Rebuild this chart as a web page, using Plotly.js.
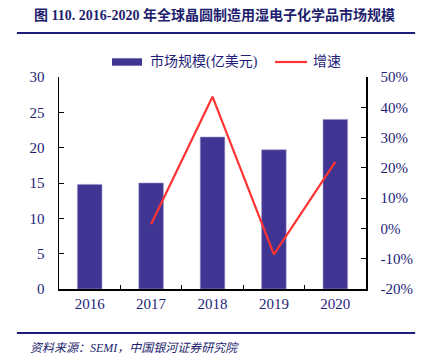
<!DOCTYPE html>
<html>
<head>
<meta charset="utf-8">
<script src="https://cdn.plot.ly/plotly-3.0.1.min.js"></script>
<style>html,body{margin:0;padding:0;background:#fff;}#chart{width:421px;height:361px;}</style>
</head>
<body>
<div id="chart"></div>
<script>
const years = ['2016', '2017', '2018', '2019', '2020'];
const marketSize = [14.8, 15.0, 21.5, 19.7, 24.0];
const growthYears = ['2017', '2018', '2019', '2020'];
const growthRate = [1.4, 43.5, -8.6, 22.0];
const leftTicks = [0, 5, 10, 15, 20, 25, 30];
const rightTicks = [-20, -10, 0, 10, 20, 30, 40, 50];
const rightTickText = rightTicks.map(v => v + '%');
const seriesNames = ['市场规模(亿美元)', '增速'];

const serif = '"Liberation Serif", "Times New Roman", "Noto Sans CJK SC", serif';
const navy = '#1E1E78';
const barColor = '#413593';
const lineColor = '#FF3333';

const traces = [
  {
    type: 'bar', x: years, y: marketSize, name: seriesNames[0],
    marker: {color: barColor, line: {color: '#9A93C8', width: 0.6}},
    width: 0.4, yaxis: 'y'
  },
  {
    type: 'scatter', mode: 'lines', x: growthYears, y: growthRate, name: seriesNames[1],
    line: {color: lineColor, width: 2.2}, yaxis: 'y2'
  }
];

const layout = {
  width: 421, height: 361,
  margin: {l: 59, r: 55, t: 77, b: 72, autoexpand: false},
  paper_bgcolor: '#fff', plot_bgcolor: '#fff',
  font: {family: serif, size: 15, color: navy},
  showlegend: false,
  bargap: 0.6,
  xaxis: {
    type: 'category', range: [-0.5, 4.5],
    showline: true, linecolor: '#000', linewidth: 1.5,
    ticks: 'inside', tickson: 'boundaries', ticklen: 4, tickcolor: '#000',
    showgrid: false, zeroline: false,
    tickfont: {family: serif, size: 15, color: navy}
  },
  yaxis: {
    range: [0, 30], tickvals: leftTicks,
    showline: true, linecolor: '#000', linewidth: 1.5,
    ticks: 'inside', ticklen: 5, tickcolor: '#000',
    showgrid: false, zeroline: false,
    ticklabelstandoff: 10,
    tickfont: {family: serif, size: 15, color: navy}
  },
  yaxis2: {
    overlaying: 'y', side: 'right', range: [-20, 50],
    tickmode: 'array', tickvals: rightTicks, ticktext: rightTickText,
    showline: true, linecolor: '#000', linewidth: 1.5,
    ticks: 'inside', ticklen: 5, tickcolor: '#000',
    showgrid: false, zeroline: false,
    ticklabelstandoff: 10,
    tickfont: {family: serif, size: 15, color: navy}
  },
  shapes: [
    {type: 'line', xref: 'paper', yref: 'paper', x0: -0.137, x1: 1.16, y0: 1.2075, y1: 1.2075,
     line: {color: '#1E1E78', width: 2}},
    {type: 'line', xref: 'paper', yref: 'paper', x0: -0.137, x1: 1.16, y0: -0.2075, y1: -0.2075,
     line: {color: '#1E1E78', width: 2}},
    // legend symbols
    {type: 'rect', xref: 'paper', yref: 'paper', x0: 0.1726, x1: 0.2704, y0: 1.0533, y1: 1.0882,
     fillcolor: barColor, line: {width: 0}},
    {type: 'line', xref: 'paper', yref: 'paper', x0: 0.7036, x1: 0.8078, y0: 1.0708, y1: 1.0708,
     line: {color: lineColor, width: 2.2}}
  ],
  annotations: [
    {xref: 'paper', yref: 'paper', x: 0.5065, y: 1.292, xanchor: 'center', yanchor: 'middle',
     showarrow: false, text: '<b>图 110. 2016-2020 年全球晶圆制造用湿电子化学品市场规模</b>',
     font: {family: serif, size: 14, color: '#1E1E6E'}},
    {xref: 'paper', yref: 'paper', x: 0.2899, y: 1.0708, xanchor: 'left', yanchor: 'middle',
     showarrow: false, text: seriesNames[0],
     font: {family: serif, size: 14, color: navy}},
    {xref: 'paper', yref: 'paper', x: 0.8208, y: 1.0708, xanchor: 'left', yanchor: 'middle',
     showarrow: false, text: seriesNames[1],
     font: {family: serif, size: 14, color: navy}},
    {xref: 'paper', yref: 'paper', x: -0.101, y: -0.278, xanchor: 'left', yanchor: 'middle',
     showarrow: false, text: '<i>资料来源：SEMI，中国银河证券研究院</i>',
     font: {family: serif, size: 12, color: '#1E1E6E'}}
  ]
};

Plotly.newPlot('chart', traces, layout, {displayModeBar: false, staticPlot: true});
</script>
</body>
</html>
